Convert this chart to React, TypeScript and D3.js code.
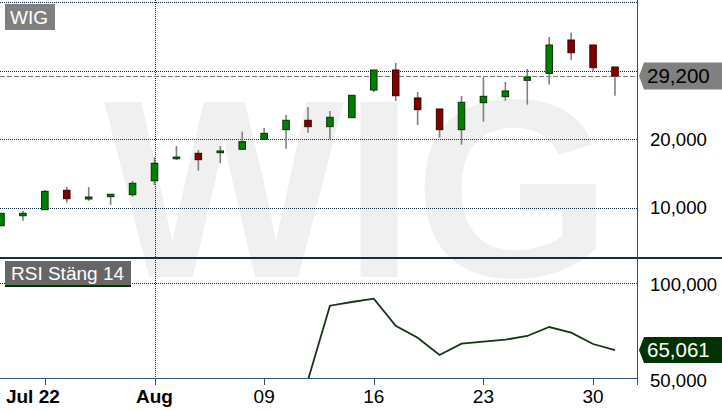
import * as d3 from "d3";

const WIDTH = 722;
const HEIGHT = 411;
const PLOT_RIGHT = 637;
const TOP_BOTTOM = 257;
const RSI_TOP = 259;
const RSI_BOTTOM = 379;
const FONT = "'Liberation Sans', Arial, sans-serif";

// daily candles, oldest first
const opens = [7340, 8800, 9680, 12510, 11240, 11580, 11870, 13910, 17120, 17910, 18000, 18500, 19960, 21360, 22730, 21800, 23110, 27150, 30070, 25990, 24380, 21360, 25300, 26180, 28570, 29590, 34450, 33720, 30510];
const highs = [9150, 9490, 12550, 12990, 12990, 11930, 13870, 17330, 18980, 18390, 18980, 21070, 21610, 23500, 24670, 24090, 26380, 30070, 31100, 26860, 24380, 26280, 29010, 28320, 30220, 34890, 35520, 33720, 30510];
const lows = [7340, 8070, 9680, 10700, 10990, 10360, 11580, 13280, 16930, 15370, 16450, 18500, 19960, 18580, 20920, 19960, 23110, 26860, 25550, 22040, 20190, 19170, 22530, 25590, 25010, 27930, 31530, 29930, 26320];
const closes = [9150, 9150, 12360, 11280, 11530, 11930, 13530, 16450, 17370, 16980, 18250, 19610, 20830, 22730, 21800, 23170, 26380, 30070, 26320, 24280, 21360, 25360, 26230, 27010, 29050, 33720, 32600, 30410, 29200];

// RSI Stäng 14 (null before enough history)
const rsiValues: (number | null)[] = [null, null, null, null, null, null, null, null, null, null, null, null, null, null, 49500, 88180, 90100, 91820, 77760, 71510, 62500, 68390, 69430, 70470, 72400, 77080, 74110, 68230, 65061];

const xTickIndex = [2, 7, 12, 17, 22, 27];
const xTickLabels = ["Jul 22", "Aug", "09", "16", "23", "30"];
const xTickBold = [true, true, false, false, false, false];

const priceGrid = [10000, 20000, 30000, 40000];
const priceLabels = [10000, 20000];
const rsiGrid = [100000];
const rsiLabels = [50000, 100000];

const fmt = d3.format(",");

export default function App() {
  const x = d3.scaleLinear().domain([0, opens.length - 1]).range([1, 615]);
  const y = d3.scaleLinear().domain([10000, 40000]).range([207.5, 2]);
  const yRsi = d3.scaleLinear().domain([50000, 100000]).range([379, 283]);

  const rsiLine = d3
    .line<number | null>()
    .defined((d) => d != null)
    .x((_, i) => x(i))
    .y((d) => yRsi(d as number));

  const lastClose = closes[closes.length - 1];
  const lastRsi = rsiValues[rsiValues.length - 1] as number;
  const priceY = y(lastClose);
  const rsiY = yRsi(lastRsi);

  const labelShape = (cy: number, h: number) =>
    `M639,${cy} L644,${cy - h / 2} L722,${cy - h / 2} L722,${cy + h / 2} L644,${cy + h / 2} Z`;

  return (
    <svg
      width={WIDTH}
      height={HEIGHT}
      style={{ position: "absolute", left: 0, top: 0, display: "block", background: "#fff" }}
      fontFamily={FONT}
    >
      <defs>
        <clipPath id="top-clip">
          <rect x={0} y={0} width={PLOT_RIGHT} height={TOP_BOTTOM} />
        </clipPath>
        <clipPath id="rsi-clip">
          <rect x={0} y={RSI_TOP} width={PLOT_RIGHT} height={RSI_BOTTOM - RSI_TOP} />
        </clipPath>
      </defs>

      {/* watermark */}
      <text
        x={358}
        y={277}
        textAnchor="middle"
        fontSize={254}
        fontWeight="bold"
        fill="#f0f0f0"
      >
        WIG
      </text>

      {/* grid */}
      {priceGrid.map((v) => (
        <line
          key={v}
          x1={0}
          x2={PLOT_RIGHT}
          y1={Math.round(y(v)) + 0.5}
          y2={Math.round(y(v)) + 0.5}
          stroke="#0b2740"
          strokeDasharray="1 1"
        />
      ))}
      {rsiGrid.map((v) => (
        <line
          key={v}
          x1={0}
          x2={PLOT_RIGHT}
          y1={Math.round(yRsi(v)) + 0.5}
          y2={Math.round(yRsi(v)) + 0.5}
          stroke="#0b2740"
          strokeDasharray="1 1"
        />
      ))}
      <line
        x1={Math.round(x(7)) + 0.5}
        x2={Math.round(x(7)) + 0.5}
        y1={0}
        y2={RSI_BOTTOM}
        stroke="#0b2740"
        strokeDasharray="1 1"
      />

      {/* last price line */}
      <line
        x1={0}
        x2={PLOT_RIGHT}
        y1={Math.round(priceY) + 0.5}
        y2={Math.round(priceY) + 0.5}
        stroke="#808080"
        strokeDasharray="5 2"
      />

      {/* candles */}
      <g clipPath="url(#top-clip)">
        {opens.map((o, i) => {
          const c = closes[i];
          const up = c >= o;
          const cx = x(i);
          const top = y(Math.max(o, c));
          const bot = y(Math.min(o, c));
          return (
            <g key={i}>
              <line
                x1={cx}
                x2={cx}
                y1={y(highs[i])}
                y2={y(lows[i])}
                stroke="#808080"
                strokeWidth={1.6}
              />
              <rect
                x={cx - 3.25}
                y={top}
                width={6.5}
                height={Math.max(1, bot - top)}
                fill={up ? "#008000" : "#800000"}
                stroke={up ? "#003300" : "#3a0000"}
                strokeWidth={1}
              />
            </g>
          );
        })}
      </g>

      {/* RSI */}
      <g clipPath="url(#rsi-clip)">
        <path d={rsiLine(rsiValues) ?? ""} fill="none" stroke="#163516" strokeWidth={1.8} />
      </g>

      {/* panel separator */}
      <rect x={0} y={TOP_BOTTOM} width={WIDTH} height={2} fill="#10304a" />

      {/* axes */}
      <line x1={PLOT_RIGHT + 0.5} x2={PLOT_RIGHT + 0.5} y1={0} y2={385} stroke="#34517d" />
      <line x1={0} x2={PLOT_RIGHT} y1={378.5} y2={378.5} stroke="#34517d" />
      {xTickIndex.map((ti, k) => (
        <g key={ti}>
          <line
            x1={Math.round(x(ti)) + 0.5}
            x2={Math.round(x(ti)) + 0.5}
            y1={379}
            y2={385}
            stroke="#34517d"
          />
          <text
            x={x(ti) + (k === 0 ? -12 : 0)}
            y={403}
            textAnchor="middle"
            fontSize={19}
            fontWeight={xTickBold[k] ? "bold" : "normal"}
            fill="#000"
          >
            {xTickLabels[k]}
          </text>
        </g>
      ))}

      {priceLabels.map((v) => (
        <text key={v} x={650} y={y(v) + 6.8} fontSize={18.6} fill="#000">
          {fmt(v)}
        </text>
      ))}
      {rsiLabels.map((v) => (
        <text key={v} x={650} y={yRsi(v) + 7.5} fontSize={18.6} fill="#000">
          {fmt(v)}
        </text>
      ))}

      {/* last value labels */}
      <path d={labelShape(priceY, 27)} fill="#808080" />
      <text x={647} y={priceY + 7} fontSize={20.5} fill="#000">
        {fmt(lastClose)}
      </text>
      <path d={labelShape(rsiY, 26)} fill="#003300" />
      <text x={647} y={rsiY + 7} fontSize={20.5} fill="#fff">
        {fmt(lastRsi)}
      </text>

      {/* legends */}
      <rect x={5} y={4} width={50} height={26} fill="#808080" />
      <text x={10} y={23.5} fontSize={19} fill="#fff">
        WIG
      </text>
      <rect x={5} y={261} width={126} height={24} fill="#666666" />
      <rect x={5} y={285} width={126} height={2} fill="#003300" />
      <text x={11} y={280} fontSize={19} fill="#fff">
        RSI Stäng 14
      </text>
    </svg>
  );
}
